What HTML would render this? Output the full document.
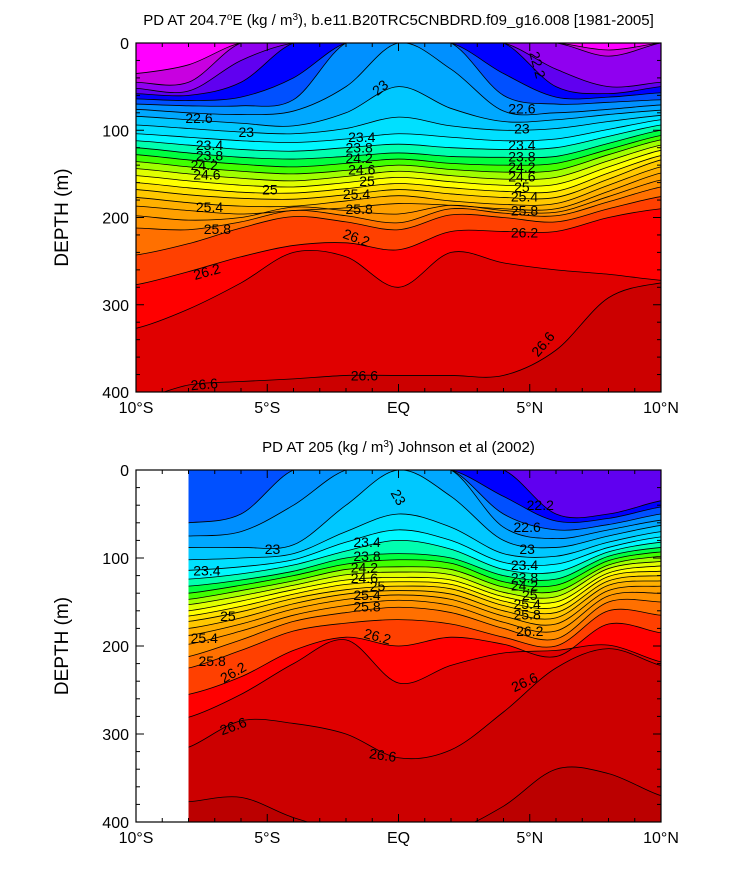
<!DOCTYPE html>
<html><head><meta charset="utf-8">
<style>
body{margin:0;background:#fff;}
svg text{font-family:"Liberation Sans",sans-serif;}
</style></head>
<body>
<svg id="chart" width="733" height="869" viewBox="0 0 733 869" xmlns="http://www.w3.org/2000/svg">
<defs>
<clipPath id="clipTop"><rect x="136" y="43" width="525" height="349"/></clipPath>
<clipPath id="clipBot"><rect x="188.5" y="470" width="472.5" height="352"/></clipPath>
</defs>
<g id="top"></g>
<g id="bot"></g>
</svg>
<script>
// ---- data ----
const levels = [21.6,21.8,22.0,22.2,22.4,22.6,22.8,23.0,23.2,23.4,23.6,23.8,24.0,24.2,24.4,24.6,24.8,25.0,25.2,25.4,25.6,25.8,26.0,26.2,26.4,26.6,26.8];
const bandColors = ["#ff00ff","#c800e0","#9000f0","#6000f0","#0000ff","#0050ff","#0090ff","#00a8ff","#00c8ff","#00e0ff","#00f8ff","#00ffb0","#00ff40","#40ff00","#a0ff00","#e0ff00","#ffff00","#ffe000","#ffc800","#ffb000","#ffa000","#ff9000","#ff7000","#ff4000","#ff0000","#e00000","#cc0000","#bb0000"];
const topLats = [-10,-8,-6,-4,-2,0,2,4,6,8,10];
const topDepths = [
[35,25,0,0,0,0,0,0,0,8,0],
[45,45,0,0,0,0,0,0,0,15,0],
[52,55,20,0,0,0,0,0,30,50,45],
[58,60,45,0,0,0,0,0,50,58,50],
[64,66,62,40,0,0,0,35,62,62,57],
[70,72,72,65,0,0,0,60,70,68,65],
[76,80,82,78,50,0,30,78,80,76,71],
[84,88,92,95,80,50,75,90,88,82,77],
[94,98,102,104,98,85,95,100,98,90,83],
[104,108,112,114,110,104,108,112,110,99,88],
[112,117,122,124,120,116,120,122,120,107,94],
[120,126,131,133,130,126,130,131,130,115,100],
[128,134,139,142,138,133,138,140,138,122,106],
[136,142,147,150,146,140,145,148,146,128,111],
[144,150,155,158,153,147,152,156,154,135,117],
[152,158,163,165,160,154,159,163,162,142,123],
[160,166,171,172,167,161,166,170,170,149,129],
[168,174,178,179,174,168,173,177,177,156,134],
[177,183,187,187,181,175,181,185,184,163,142],
[187,192,196,192,189,184,186,190,190,170,149],
[198,203,200,188,192,196,186,192,194,176,157],
[212,214,205,192,198,206,190,195,198,182,165],
[243,230,212,199,205,214,197,200,205,190,176],
[277,262,245,232,229,237,216,216,216,200,190],
[327,305,275,240,245,280,240,252,260,265,272],
[410,392,388,385,381,381,381,381,352,292,275],
[430,430,430,430,430,430,430,430,430,430,430]
];
const botLats = [-8,-6,-4,-2,0,2,4,6,8,10];
const botDepths = [
[0,0,0,0,0,0,0,0,0,0],
[0,0,0,0,0,0,0,0,0,0],
[0,0,0,0,0,0,0,0,0,0],
[0,0,0,0,0,0,0,50,50,35],
[0,0,0,0,0,0,30,58,55,42],
[60,50,0,0,0,0,50,68,62,50],
[75,70,40,0,0,0,65,78,68,57],
[88,88,85,40,0,30,80,88,75,63],
[102,100,95,70,50,65,95,98,82,70],
[114,110,102,82,68,80,105,107,88,76],
[124,118,108,92,80,90,113,116,93,82],
[132,125,115,100,95,100,120,124,98,88],
[140,131,120,107,102,106,127,131,103,93],
[147,137,126,113,110,113,133,138,108,98],
[153,143,131,119,116,119,139,144,112,104],
[160,149,136,125,122,125,144,150,117,109],
[166,155,141,130,127,130,149,156,121,115],
[172,161,146,136,132,135,154,162,126,120],
[180,168,152,141,137,141,160,168,131,126],
[188,175,158,147,142,147,166,175,137,132],
[198,183,165,154,148,154,173,183,143,140],
[212,193,172,162,156,162,180,192,150,150],
[225,205,183,174,170,175,190,200,160,165],
[255,235,205,190,200,190,198,212,175,185],
[281,255,220,193,242,222,208,205,199,218],
[315,285,288,300,327,318,275,225,203,222],
[377,372,395,410,410,410,382,340,345,370]
];
const topLabels = [[-7.6,86,"22.6",0],[-5.8,102,"23",0],[-7.2,117,"23.4",0],[-7.2,129,"23.8",0],[-7.4,140,"24.2",0],[-7.3,151,"24.6",0],[-4.9,168,"25",0],[-7.2,188,"25.4",0],[-6.9,213,"25.8",0],[-7.3,262,"26.2",-15],[-7.4,391,"26.6",-5],
[-0.7,51,"23",-40],[-1.4,108,"23.4",0],[-1.5,120,"23.8",0],[-1.5,132,"24.2",0],[-1.4,145,"24.6",0],[-1.2,158,"25",0],[-1.6,173,"25.4",0],[-1.5,190,"25.8",0],[-1.6,223,"26.2",20],[-1.3,381,"26.6",0],
[5.3,25,"22.2",75],[4.7,75,"22.6",0],[4.7,98,"23",0],[4.7,117,"23.4",0],[4.7,130,"23.8",0],[4.7,142,"24.2",0],[4.7,153,"24.6",0],[4.7,165,"25",0],[4.8,176,"25.4",0],[4.8,192,"25.8",0],[4.8,217,"26.2",0],[5.5,345,"26.6",-50]];
const botLabels = [[-4.8,90,"23",0],[-7.3,114,"23.4",0],[-6.5,166,"25",0],[-7.4,191,"25.4",0],[-7.1,217,"25.8",0],[-6.3,230,"26.2",-30],[-6.3,291,"26.6",-20],
[0,31,"23",60],[-1.2,82,"23.4",0],[-1.2,98,"23.8",0],[-1.3,111,"24.2",0],[-1.3,123,"24.6",0],[-0.8,132,"25",0],[-1.2,142,"25.4",0],[-1.2,155,"25.8",0],[-0.8,189,"26.2",15],[-0.6,324,"26.6",8],
[5.4,40,"22.2",0],[4.9,65,"22.6",0],[4.9,90,"23",0],[4.8,108,"23.4",0],[4.8,122,"23.8",0],[4.8,131,"24.2",0],[5,142,"25",0],[4.9,152,"25.4",0],[4.9,164,"25.8",0],[5,183,"26.2",0],[4.8,241,"26.6",-25]];
const yTicks = [0,100,200,300,400];
const xTickVals = [-10,-5,0,5,10];
const xTickLabels = ["10°S","5°S","EQ","5°N","10°N"];

const NS="http://www.w3.org/2000/svg";
function mk(tag,attrs,parent){const e=document.createElementNS(NS,tag);for(const k in attrs)e.setAttribute(k,attrs[k]);parent.appendChild(e);return e;}
function curve(pts){
  let d="M"+pts[0][0]+","+pts[0][1];
  for(let i=0;i<pts.length-1;i++){
    const p0=pts[i-1]||pts[i],p1=pts[i],p2=pts[i+1],p3=pts[i+2]||p2;
    const c1=[p1[0]+(p2[0]-p0[0])/6,p1[1]+(p2[1]-p0[1])/6];
    const c2=[p2[0]-(p3[0]-p1[0])/6,p2[1]-(p3[1]-p1[1])/6];
    d+=" C"+c1[0]+","+c1[1]+" "+c2[0]+","+c2[1]+" "+p2[0]+","+p2[1];
  }
  return d;
}
function panel(g,y0,y1,lats,depths,labels,clipId,title,xmin){
  const x0=136,x1=661;
  const X=lat=>x0+(lat+10)/20*(x1-x0);
  const Y=d=>y0+d/400*(y1-y0);
  const cg=mk("g",{"clip-path":"url(#"+clipId+")"},g);
  const bg=mk("rect",{x:X(xmin),y:y0,width:x1-X(xmin),height:y1-y0,fill:bandColors[0]},cg);
  
  
  const xa=X(lats[0])-30,xb=X(lats[lats.length-1])+30;
  depths.forEach((row,i)=>{
    const pts=row.map((d,j)=>[X(lats[j]),Y(d)]);
    pts.unshift([xa,Y(row[0])]);pts.push([xb,Y(row[row.length-1])]);
    const c=curve(pts);
    const f=mk("path",{d:c+" L"+xb+","+(y1+60)+" L"+xa+","+(y1+60)+" Z",fill:bandColors[i+1]},cg);
    
    
  });
  depths.forEach((row,i)=>{
    const pts=row.map((d,j)=>[X(lats[j]),Y(d)]);
    pts.unshift([xa,Y(row[0])]);pts.push([xb,Y(row[row.length-1])]);
    const l=mk("path",{d:curve(pts),fill:"none",stroke:"#000","stroke-width":0.8},cg);
    
    
  });
  labels.forEach(L=>{
    const t=mk("text",{x:X(L[0]),y:Y(L[1]),"font-size":14,"text-anchor":"middle","dominant-baseline":"central",transform:"rotate("+L[3]+" "+X(L[0])+" "+Y(L[1])+")"},cg);
    t.textContent=L[2];
    
    
  });
  const fr=mk("rect",{x:x0,y:y0,width:x1-x0,height:y1-y0,fill:"none",stroke:"#000","stroke-width":1.2},g);
  
  
  for(let d=0;d<=400;d+=20){
    const major=d%100===0,len=major?8:4;
    mk("line",{x1:x0,x2:x0+len,y1:Y(d),y2:Y(d),stroke:"#000"},g);
    mk("line",{x1:x1,x2:x1-len,y1:Y(d),y2:Y(d),stroke:"#000"},g);
  }
  yTicks.forEach(d=>{
    const t=mk("text",{x:x0-7,y:Y(d)+6,"font-size":16,"text-anchor":"end"},g);
    t.textContent=d;
    
    
  });
  for(let lat=-10;lat<=10;lat++){
    const major=lat%5===0,len=major?8:4;
    mk("line",{x1:X(lat),x2:X(lat),y1:y1,y2:y1-len,stroke:"#000"},g);
    mk("line",{x1:X(lat),x2:X(lat),y1:y0,y2:y0+len,stroke:"#000"},g);
  }
  xTickVals.forEach((v,i)=>{
    const t=mk("text",{x:X(v),y:y1+21,"font-size":16,"text-anchor":"middle"},g);
    t.textContent=xTickLabels[i];
    
    
  });
  const yt=mk("text",{x:68,y:(y0+y1)/2,"font-size":19,"text-anchor":"middle",transform:"rotate(-90 68 "+(y0+y1)/2+")"},g);
  yt.textContent="DEPTH (m)";
  
  
  const tt=mk("text",{x:(x0+x1)/2,y:y0-18,"font-size":15,"text-anchor":"middle"},g);
  tt.innerHTML=title;
  
  
}
panel(document.getElementById("top"),43,392,topLats,topDepths,topLabels,"clipTop",
 'PD AT 204.7<tspan dy="-5" font-size="10">o</tspan><tspan dy="5">E (kg / m</tspan><tspan dy="-5" font-size="10">3</tspan><tspan dy="5">), b.e11.B20TRC5CNBDRD.f09_g16.008 [1981-2005]</tspan>',-10);
panel(document.getElementById("bot"),470,822,botLats,botDepths,botLabels,"clipBot",
 'PD AT 205 (kg / m<tspan dy="-5" font-size="10">3</tspan><tspan dy="5">) Johnson et al (2002)</tspan>',-8);
</script>
</body></html>
